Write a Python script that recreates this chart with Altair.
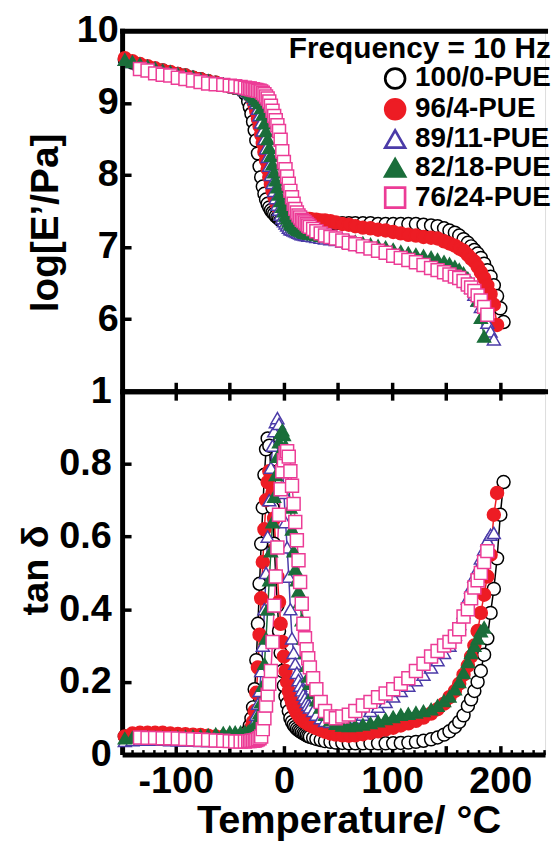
import altair as alt
import pandas as pd

FONT = "Liberation Sans"

# ---------------- data ----------------
series_names = ["100/0-PUE", "96/4-PUE", "89/11-PUE", "82/18-PUE", "76/24-PUE"]

T_low = [-147, -140, -133, -126, -119, -112, -105, -98, -91, -84, -77, -70, -63, -56, -50, -45, -40, -36]
T_mid = [-33, -31.5, -30, -28.5, -27, -25.5, -24, -22.5, -21, -19.5,
         -18, -16.5, -15, -13.5, -12, -10.5, -9, -7.5, -6, -4.5,
         -3, -1.5, 0, 1.5, 3, 4.5, 6, 7.5, 9, 10.5,
         12, 13.5, 15, 16.5, 18, 19.5, 21, 22.5, 24]
T_high = [27, 30, 34, 38, 43, 48, 54, 60, 66, 73,
          80, 87, 94, 101, 108, 115, 122, 129, 136, 142,
          148, 153, 158, 162, 166, 170, 173, 176, 179, 182,
          185, 188, 191, 194, 197, 200, 203]

# log E' (Pa)
logE_100_0 = [9.60, 9.56, 9.53, 9.50, 9.47, 9.45, 9.42, 9.40, 9.38, 9.35, 9.33, 9.30, 9.28, 9.25, 9.23, 9.21, 9.19, 9.13,
              9.02, 8.94, 8.85, 8.74, 8.62, 8.48, 8.30, 8.12, 7.97, 7.84,
              7.74, 7.66, 7.60, 7.55, 7.51, 7.48, 7.46, 7.43, 7.41, 7.39,
              7.37, 7.36, 7.36, 7.35, 7.35, 7.34, 7.34, 7.34, 7.33, 7.33,
              7.33, 7.33, 7.33, 7.33, 7.33, 7.33, 7.33, 7.33, 7.33,
              7.33, 7.33, 7.33, 7.33, 7.33, 7.33, 7.33, 7.33, 7.33, 7.33,
              7.33, 7.32, 7.32, 7.32, 7.32, 7.32, 7.32, 7.31, 7.30, 7.29,
              7.26, 7.23, 7.20, 7.16, 7.11, 7.06, 7.01, 6.96, 6.91, 6.85,
              6.77, 6.68, 6.59, 6.47, 6.32, 6.15, 5.96]
logE_96_4 = [9.62, 9.58, 9.54, 9.51, 9.48, 9.45, 9.43, 9.40, 9.38, 9.35, 9.33, 9.30, 9.28, 9.25, 9.23, 9.21, 9.19, 9.17,
             9.13, 9.11, 9.08, 9.03, 8.96, 8.88, 8.78, 8.68, 8.56, 8.44,
             8.32, 8.20, 8.08, 7.97, 7.87, 7.78, 7.70, 7.63, 7.58, 7.53,
             7.50, 7.47, 7.45, 7.44, 7.43, 7.42, 7.42, 7.41, 7.41, 7.40,
             7.40, 7.40, 7.40, 7.40, 7.40, 7.39, 7.39, 7.39, 7.39,
             7.38, 7.38, 7.37, 7.37, 7.36, 7.34, 7.32, 7.31, 7.29, 7.27,
             7.26, 7.24, 7.23, 7.21, 7.19, 7.17, 7.16, 7.14, 7.13, 7.12,
             7.08, 7.05, 7.02, 6.98, 6.95, 6.89, 6.84, 6.80, 6.73, 6.65,
             6.57, 6.47, 6.35, 6.20, 5.92, None, None]
logE_89_11 = [9.60, 9.57, 9.54, 9.51, 9.48, 9.45, 9.43, 9.40, 9.38, 9.36, 9.33, 9.31, 9.28, 9.26, 9.24, 9.22, 9.20, 9.18,
              9.16, 9.14, 9.12, 9.09, 9.05, 9.00, 8.92, 8.83, 8.73, 8.62,
              8.50, 8.37, 8.25, 8.13, 8.00, 7.89, 7.78, 7.68, 7.59, 7.52,
              7.45, 7.40, 7.36, 7.33, 7.30, 7.27, 7.25, 7.24, 7.23, 7.22,
              7.21, 7.20, 7.19, 7.18, 7.18, 7.17, 7.17, 7.16, 7.16,
              7.15, 7.14, 7.13, 7.12, 7.11, 7.10, 7.08, 7.06, 7.04, 7.02,
              7.00, 6.98, 6.95, 6.92, 6.90, 6.87, 6.84, 6.81, 6.78, 6.75,
              6.72, 6.69, 6.66, 6.62, 6.57, 6.50, 6.44, 6.34, 6.26, 6.17,
              6.07, 5.95, 5.83, 5.72, None, None, None]
logE_82_18 = [9.60, 9.57, 9.54, 9.51, 9.48, 9.45, 9.43, 9.40, 9.38, 9.36, 9.33, 9.31, 9.28, 9.26, 9.24, 9.22, 9.20, 9.19,
              9.17, 9.15, 9.13, 9.11, 9.09, 9.06, 9.03, 9.00, 8.93, 8.84,
              8.72, 8.61, 8.50, 8.38, 8.27, 8.15, 8.04, 7.93, 7.83, 7.73,
              7.64, 7.56, 7.50, 7.44, 7.40, 7.36, 7.33, 7.31, 7.29, 7.27,
              7.25, 7.24, 7.23, 7.22, 7.21, 7.20, 7.20, 7.19, 7.19,
              7.18, 7.17, 7.16, 7.15, 7.13, 7.12, 7.11, 7.09, 7.08, 7.06,
              7.04, 7.02, 7.00, 6.97, 6.94, 6.92, 6.90, 6.88, 6.86, 6.83,
              6.80, 6.77, 6.73, 6.69, 6.64, 6.57, 6.50, 6.40, 6.26, 6.02,
              5.76, None, None, None, None, None, None]
logE_76_24 = [None, None, 9.47, 9.45, 9.41, 9.39, 9.38, 9.35, 9.33, 9.31, 9.29, 9.27, 9.26, 9.25, 9.24, 9.23, 9.22, 9.21,
              9.20, 9.20, 9.19, 9.19, 9.18, 9.18, 9.17, 9.17, 9.16, 9.14,
              9.12, 9.09, 9.06, 9.02, 8.96, 8.89, 8.82, 8.76, 8.69, 8.61,
              8.49, 8.33, 8.18, 8.08, 7.98, 7.88, 7.78, 7.69, 7.60, 7.53,
              7.48, 7.44, 7.41, 7.38, 7.36, 7.34, 7.32, 7.30, 7.28,
              7.25, 7.22, 7.19, 7.16, 7.14, 7.12, 7.09, 7.06, 7.04, 7.01,
              6.98, 6.95, 6.92, 6.88, 6.85, 6.82, 6.79, 6.75, 6.71, 6.68,
              6.65, 6.62, 6.59, 6.57, 6.53, 6.48, 6.44, 6.39, 6.33, 6.26,
              6.17, 6.06, None, None, None, None, None]

# tan delta
tan_100_0 = [0.050, 0.050, 0.050, 0.050, 0.050, 0.050, 0.050, 0.049, 0.048, 0.047, 0.046, 0.045, 0.044, 0.044, 0.044, 0.045, 0.050, 0.058,
             0.065, 0.080, 0.100, 0.130, 0.180, 0.260, 0.360, 0.470, 0.580, 0.680,
             0.770, 0.840, 0.870, 0.850, 0.780, 0.680, 0.580, 0.490, 0.410, 0.340,
             0.280, 0.230, 0.190, 0.160, 0.140, 0.120, 0.100, 0.090, 0.082, 0.076,
             0.071, 0.067, 0.064, 0.061, 0.058, 0.056, 0.053, 0.051, 0.049,
             0.046, 0.043, 0.040, 0.037, 0.035, 0.033, 0.032, 0.031, 0.031, 0.031,
             0.031, 0.031, 0.031, 0.031, 0.032, 0.033, 0.035, 0.038, 0.042, 0.047,
             0.055, 0.064, 0.076, 0.090, 0.108, 0.134, 0.152, 0.175, 0.200, 0.230,
             0.275, 0.320, 0.390, 0.456, 0.540, 0.660, 0.750]
tan_96_4 = [0.050, 0.058, 0.060, 0.060, 0.060, 0.060, 0.058, 0.057, 0.056, 0.055, 0.054, 0.052, 0.050, 0.049, 0.048, 0.048, 0.050, 0.055,
            0.060, 0.065, 0.075, 0.090, 0.120, 0.170, 0.240, 0.330, 0.430, 0.530,
            0.620, 0.700, 0.750, 0.780, 0.770, 0.720, 0.650, 0.570, 0.490, 0.420,
            0.360, 0.310, 0.270, 0.230, 0.200, 0.175, 0.158, 0.145, 0.133, 0.123,
            0.115, 0.108, 0.102, 0.097, 0.093, 0.090, 0.087, 0.084, 0.081,
            0.077, 0.073, 0.068, 0.063, 0.058, 0.055, 0.053, 0.052, 0.053, 0.056,
            0.060, 0.064, 0.069, 0.074, 0.080, 0.086, 0.093, 0.102, 0.113, 0.125,
            0.140, 0.158, 0.175, 0.195, 0.220, 0.245, 0.270, 0.300, 0.340, 0.390,
            0.440, 0.490, 0.550, 0.660, 0.720, None, None]
tan_89_11 = [0.038, 0.040, 0.041, 0.041, 0.041, 0.041, 0.040, 0.040, 0.039, 0.039, 0.038, 0.038, 0.038, 0.039, 0.040, 0.042, 0.045, 0.050,
             0.055, 0.060, 0.065, 0.075, 0.090, 0.110, 0.140, 0.175, 0.230, 0.300,
             0.400, 0.500, 0.600, 0.700, 0.790, 0.850, 0.890, 0.915, 0.926, 0.910,
             0.870, 0.800, 0.720, 0.640, 0.570, 0.490, 0.400, 0.320, 0.280, 0.250,
             0.225, 0.205, 0.190, 0.177, 0.165, 0.155, 0.145, 0.137, 0.130,
             0.120, 0.110, 0.100, 0.093, 0.090, 0.090, 0.092, 0.096, 0.102, 0.110,
             0.120, 0.132, 0.145, 0.160, 0.175, 0.190, 0.205, 0.220, 0.240, 0.260,
             0.280, 0.300, 0.330, 0.360, 0.390, 0.430, 0.460, 0.490, 0.510, 0.540,
             0.565, 0.590, 0.605, 0.610, None, None, None]
tan_82_18 = [0.045, 0.047, 0.048, 0.048, 0.048, 0.048, 0.048, 0.049, 0.050, 0.051, 0.052, 0.054, 0.057, 0.060, 0.062, 0.062, 0.062, 0.063,
             0.064, 0.066, 0.068, 0.070, 0.075, 0.082, 0.095, 0.115, 0.145, 0.190,
             0.250, 0.320, 0.400, 0.480, 0.560, 0.640, 0.710, 0.770, 0.820, 0.860,
             0.885, 0.893, 0.880, 0.850, 0.800, 0.740, 0.680, 0.620, 0.560, 0.510,
             0.480, 0.450, 0.420, 0.370, 0.320, 0.280, 0.245, 0.215, 0.195,
             0.170, 0.150, 0.130, 0.110, 0.095, 0.085, 0.080, 0.079, 0.080, 0.083,
             0.087, 0.092, 0.098, 0.104, 0.110, 0.113, 0.116, 0.120, 0.125, 0.135,
             0.148, 0.160, 0.180, 0.200, 0.225, 0.255, 0.280, 0.300, 0.320, 0.340,
             0.350, None, None, None, None, None, None]
tan_76_24 = [None, None, 0.047, 0.046, 0.046, 0.045, 0.045, 0.044, 0.043, 0.042, 0.041, 0.040, 0.039, 0.038, 0.037, 0.036, 0.036, 0.036,
             0.037, 0.037, 0.038, 0.038, 0.039, 0.040, 0.042, 0.045, 0.050, 0.070,
             0.100, 0.135, 0.165, 0.195, 0.230, 0.310, 0.410, 0.490, 0.570, 0.660,
             0.730, 0.780, 0.810, 0.830, 0.835, 0.820, 0.780, 0.740, 0.690, 0.640,
             0.590, 0.535, 0.475, 0.415, 0.360, 0.320, 0.290, 0.265, 0.240,
             0.210, 0.180, 0.145, 0.120, 0.105, 0.100, 0.105, 0.110, 0.120, 0.135,
             0.145, 0.158, 0.168, 0.180, 0.195, 0.210, 0.230, 0.250, 0.270, 0.285,
             0.300, 0.310, 0.325, 0.345, 0.380, 0.400, 0.430, 0.460, 0.480, 0.500,
             0.530, 0.560, None, None, None, None, None]

shapes = ["circle", "circle", "triangle-up", "triangle-up", "square"]
fills = ["white", "#ED1C24", "white", "#1A6E3A", "white"]
strokes = ["black", "#ED1C24", "#4B3BA8", "#1A6E3A", "#EC3C96"]

# ---------------- table ----------------
T = T_low + T_mid + T_high
logE_all = [logE_100_0, logE_96_4, logE_89_11, logE_82_18, logE_76_24]
tan_all = [tan_100_0, tan_96_4, tan_89_11, tan_82_18, tan_76_24]
rows = []
for name, le, td in zip(series_names, logE_all, tan_all):
    for t, a, b in zip(T, le, td):
        rows.append({"T": t, "logE": a, "tan": b, "series": name})
df = pd.DataFrame(rows)

# ---------------- helpers ----------------
W, H_TOP, H_BOT = 426, 363, 366
x_scale = alt.Scale(domain=[-149.5, -149.5 + W / 1.09], nice=False, zero=False)
y_top_scale = alt.Scale(domain=[5, 10], nice=False, zero=False)
y_bot_scale = alt.Scale(domain=[0, 1], nice=False, zero=False)

AX = dict(labelFont=FONT, labelFontWeight="bold", labelColor="black",
          titleFont=FONT, titleFontWeight="bold", titleColor="black",
          domainColor="black", tickColor="black", grid=False)


def axis(**kw):
    d = dict(AX)
    d.update(kw)
    return alt.Axis(**d)


def tick_axis(orient, values, size, width=3.5):
    return axis(orient=orient, values=values, offset=-size, tickSize=size, tickWidth=width,
                domain=False, labels=False, title=None, ticks=True)


def border_axis(orient):
    return axis(orient=orient, domainWidth=5, domainCap="square", ticks=False, labels=False, title=None)


majors = [-100, -50, 0, 50, 100, 150, 200]
minors = [v for v in range(-140, 241, 10) if v % 50 != 0]

# title is right-anchored; entries are pushed so that their right edge meets the title's
legend = alt.Legend(orient="none", legendX=168, legendY=3, title="Frequency = 10 Hz",
                    titleFont=FONT, titleFontSize=30, titleFontWeight="bold", titleColor="black",
                    titleAnchor="end", titleAlign="right", titlePadding=1, titleLimit=600,
                    labelFont=FONT, labelFontSize=28, labelFontWeight="bold", labelColor="black",
                    labelOffset=6, labelLimit=400, symbolSize=400, symbolStrokeWidth=2.7,
                    rowPadding=-1, padding=0)

base = alt.Chart(df)


def lines(field, yscale, axes_x, axes_y):
    out = []
    for i, (name, col) in enumerate(zip(series_names, strokes)):
        ax_x = axes_x[i] if i < len(axes_x) else None
        ax_y = axes_y[i] if i < len(axes_y) else None
        out.append(
            base.transform_filter(alt.datum.series == name)
            .transform_filter(f"isValid(datum.{field})")
            .mark_line(color=col, strokeWidth=1.5)
            .encode(x=alt.X("T:Q", scale=x_scale, axis=ax_x),
                    y=alt.Y(f"{field}:Q", scale=yscale, axis=ax_y))
        )
    return out


def points(field, yscale, xax, yax, leg):
    return (
        base.transform_filter(f"isValid(datum.{field})")
        .mark_point(opacity=1, fillOpacity=1)
        .encode(
            x=alt.X("T:Q", scale=x_scale, axis=xax),
            y=alt.Y(f"{field}:Q", scale=yscale, axis=yax),
            shape=alt.Shape("series:N", scale=alt.Scale(domain=series_names, range=shapes), legend=leg),
            fill=alt.Fill("series:N", scale=alt.Scale(domain=series_names, range=fills), legend=leg),
            stroke=alt.Stroke("series:N", scale=alt.Scale(domain=series_names, range=strokes), legend=leg),
            size=alt.value(170),
            strokeWidth=alt.value(1.5),
        )
    )


# ---------------- top panel ----------------
top_lines = lines("logE", y_top_scale,
                  [border_axis("top"), tick_axis("bottom", majors, 9)],
                  [tick_axis("left", [6, 7, 8, 9], 9)])
top_pts = points(
    "logE", y_top_scale,
    axis(orient="bottom", values=majors, labels=False, ticks=True, tickSize=9, tickWidth=3.5,
         domainWidth=5, title=None),
    axis(orient="left", values=[6, 7, 8, 9, 10], ticks=False, tickSize=0, domainWidth=5,
         domainCap="square", labelFontSize=38, labelPadding=4,
         title="log[E’/Pa]", titleFontSize=39, titleAngle=270, titleX=-65, titleY=193,
         titleBaseline="alphabetic", titleAlign="center"),
    legend,
)
top = alt.layer(*top_lines, top_pts).resolve_axis(x="independent", y="independent").properties(
    width=W, height=H_TOP)

# ---------------- bottom panel ----------------
bot_lines = lines("tan", y_bot_scale,
                  [border_axis("top"), tick_axis("bottom", majors, 9), tick_axis("bottom", minors, 5, 2.5)],
                  [tick_axis("left", [0.2, 0.4, 0.6, 0.8], 9)])
bot_pts = points(
    "tan", y_bot_scale,
    axis(orient="bottom", values=[-100, 0, 100, 200],
         labelExpr="(datum.value < 0 ? '-' : '') + abs(datum.value)",
         ticks=False, tickSize=0, domainWidth=5,
         labelFontSize=38, labelPadding=8,
         title="Temperature/ °C", titleFontSize=40, titleX=228, titleY=78,
         titleBaseline="alphabetic", titleAlign="center"),
    axis(orient="left", values=[0, 0.2, 0.4, 0.6, 0.8, 1], labelExpr="format(datum.value, '~g')",
         ticks=False, tickSize=0, domainWidth=5, labelFontSize=38, labelPadding=11,
         title="tan δ", titleFontSize=38, titleAngle=270, titleX=-75, titleY=180,
         titleBaseline="alphabetic", titleAlign="center"),
    None,
)
bottom = alt.layer(*bot_lines, bot_pts).resolve_axis(x="independent", y="independent").properties(
    width=W, height=H_BOT)

chart = (
    alt.vconcat(top, bottom, spacing=0, bounds="flush")
    .resolve_legend(shape="independent", fill="independent", stroke="independent")
    .properties(padding={"left": 17, "top": 8, "right": 0, "bottom": 0})
    .configure_view(stroke=None)
    .configure(font=FONT)
)

chart.save("out.html", embed_options={"renderer": "svg", "actions": False})
